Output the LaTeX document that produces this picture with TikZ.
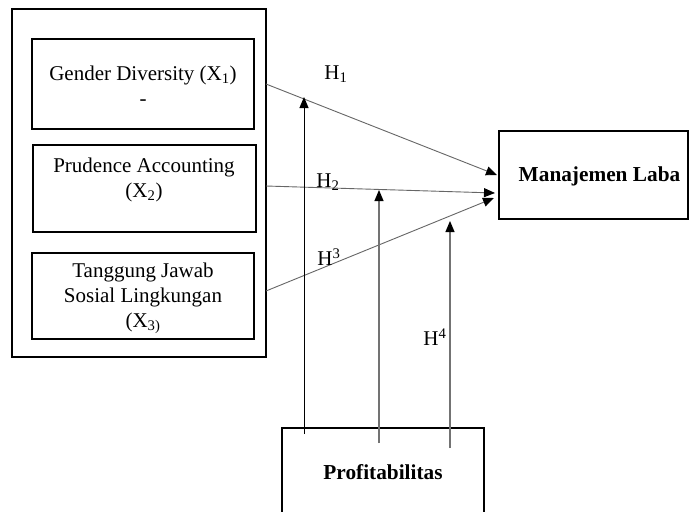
\documentclass[tikz,border=0pt]{standalone}
\usepackage{fontspec}
\setmainfont{Liberation Serif}
\usetikzlibrary{arrows.meta}
\begin{document}
\begin{tikzpicture}[x=1pt,y=-1pt,
  box/.style={draw=black,line width=1.8pt,inner sep=0pt},
  txt/.style={align=center,inner sep=0pt,font=\fontsize{21}{25}\selectfont},
  btxt/.style={align=center,inner sep=0pt,font=\fontsize{21.3}{25}\selectfont\bfseries},
  conn/.style={draw=black!60,line width=0.9pt,-{Triangle[length=11pt,width=9pt,color=black]}},
  vconn/.style={draw=black,line width=1pt,-{Triangle[length=11pt,width=9pt,color=black]}},
  vconng/.style={draw=black!55,line width=1.2pt,-{Triangle[length=11pt,width=9pt,color=black]}}]
\clip (0,0) rectangle (689,512);
\fill[white] (0,0) rectangle (689,512);
% outer box
\node[box,minimum width=254pt,minimum height=348pt] (outer) at (139,183) {};
% inner boxes
\node[box,minimum width=222pt,minimum height=90pt] (b1) at (143,84) {};
\node[box,minimum width=223pt,minimum height=87pt] (b2) at (144.5,188.5) {};
\node[box,minimum width=222pt,minimum height=86pt] (b3) at (143,296) {};
\node[txt] (t1) at (143,86) {Gender Diversity (X\textsubscript{1})\\-};
\node[txt] (t2) at (144,180) {Prudence Accounting\\(X\textsubscript{2})};
\node[txt] (t3) at (143,298) {Tanggung Jawab\\Sosial Lingkungan\\(X\textsubscript{3)}};
% dependent
\node[box,minimum width=189pt,minimum height=88pt] (ml) at (593.5,175) {};
\node[btxt] (tml) at (599.5,176) {Manajemen Laba};
% moderator
\node[box,minimum width=202pt,minimum height=120pt] (pr) at (383,488) {};
\node[btxt] (tpr) at (383,472) {Profitabilitas};
% coordinates
\coordinate (s1) at (266,84);
\coordinate (s2) at (266,186);
\coordinate (s3) at (266,291);
\coordinate (e1) at (497,175);
\coordinate (e2) at (495,193);
\coordinate (e3) at (494,198);
\coordinate (v1s) at (304,434);
\coordinate (v1e) at (304,97);
\coordinate (v2s) at (379,443);
\coordinate (v2e) at (379,190);
\coordinate (v3s) at (450,448);
\coordinate (v3e) at (450,221);
\draw[conn] (s1) -- (e1);
\draw[conn] (s2) -- (e2);
\draw[conn] (s3) -- (e3);
\draw[vconn] (v1s) -- (v1e);
\draw[vconng] (v2s) -- (v2e);
\draw[vconng] (v3s) -- (v3e);
% labels
\node[txt] (h1) at (336,74) {H\textsubscript{1}};
\node[txt] (h2) at (328,182) {H\textsubscript{2}};
\node[txt] (h3) at (329,257) {H\textsuperscript{3}};
\node[txt] (h4) at (435,337) {H\textsuperscript{4}};
\end{tikzpicture}
\end{document}
